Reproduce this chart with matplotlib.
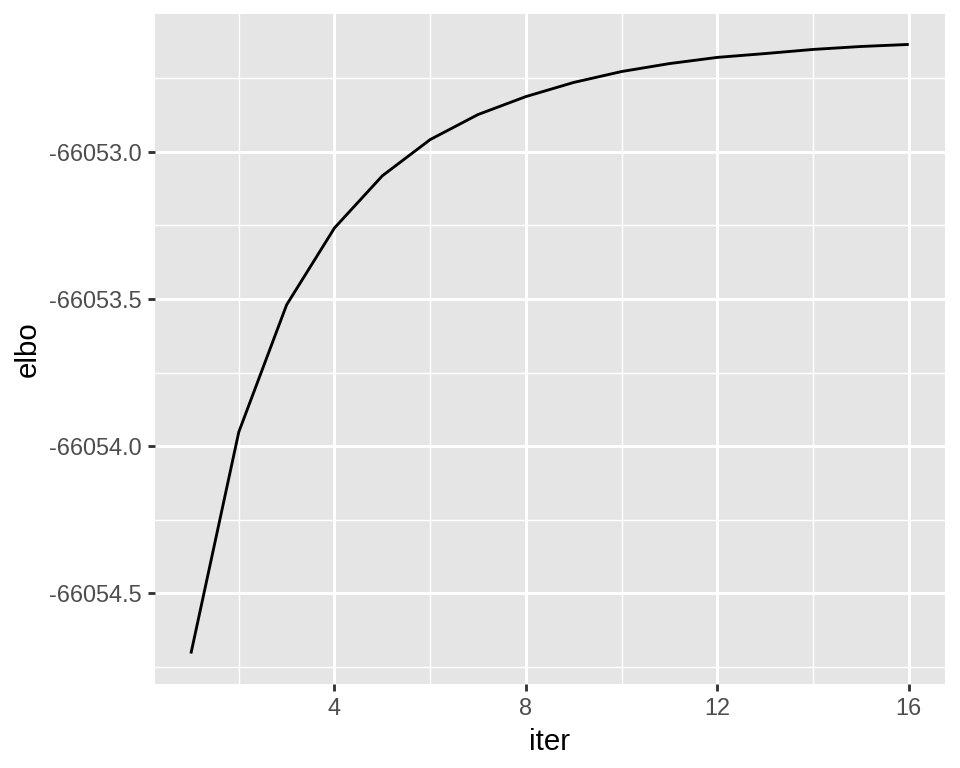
import matplotlib
matplotlib.use("Agg")
import matplotlib.pyplot as plt
from matplotlib.ticker import FixedLocator, FormatStrFormatter

# ELBO per iteration
iters = [1, 2, 3, 4, 5, 6, 7, 8, 9, 10, 11, 12, 13, 14, 15, 16]
elbo = [-66054.704, -66053.952, -66053.520, -66053.259, -66053.082,
        -66052.959, -66052.874, -66052.813, -66052.765, -66052.728,
        -66052.701, -66052.680, -66052.667, -66052.653, -66052.643,
        -66052.636]

x_major = [4, 8, 12, 16]
x_minor = [2, 6, 10, 14]
y_major = [-66054.5, -66054.0, -66053.5, -66053.0]
y_minor = [-66054.75, -66054.25, -66053.75, -66053.25, -66052.75]

plt.rcParams["font.family"] = ["Liberation Sans", "DejaVu Sans"]

fig = plt.figure(figsize=(5, 4), dpi=192)
ax = fig.add_axes([0.1615, 0.1094, 0.8225, 0.8724])
ax.set_facecolor("#E5E5E5")
for s in ax.spines.values():
    s.set_visible(False)

# ggplot style expansion
xr = max(iters) - min(iters)
ax.set_xlim(min(iters) - 0.05 * xr, max(iters) + 0.05 * xr)
yr = max(elbo) - min(elbo)
ax.set_ylim(min(elbo) - 0.05 * yr, max(elbo) + 0.05 * yr)

ax.xaxis.set_major_locator(FixedLocator(x_major))
ax.xaxis.set_minor_locator(FixedLocator(x_minor))
ax.yaxis.set_major_locator(FixedLocator(y_major))
ax.yaxis.set_minor_locator(FixedLocator(y_minor))
ax.yaxis.set_major_formatter(FormatStrFormatter("%.1f"))

ax.grid(which="major", color="white", linewidth=1.07)
ax.grid(which="minor", color="white", linewidth=0.53)
ax.set_axisbelow(True)

ax.tick_params(which="major", length=2.75, width=1.07, color="#333333",
               labelsize=8.8, labelcolor="#4D4D4D", pad=2.2)
ax.tick_params(which="minor", length=0)

ax.plot(iters, elbo, color="black", linewidth=1.07, solid_capstyle="butt")

ax.set_xlabel("iter", fontsize=11, labelpad=2.75)
ax.set_ylabel("elbo", fontsize=11, labelpad=2.75)

fig.savefig("out.png", dpi=192)
